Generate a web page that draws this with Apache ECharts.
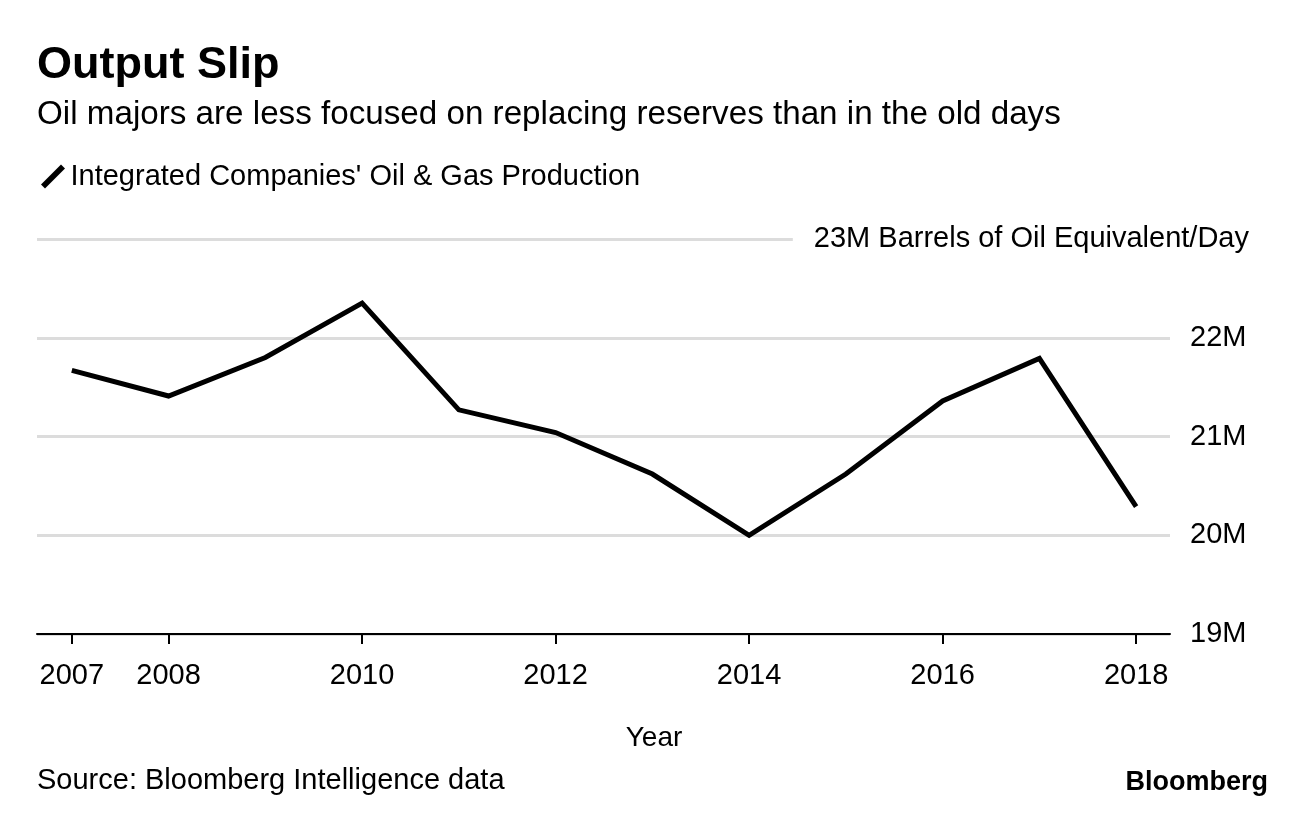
<!DOCTYPE html>
<html>
<head>
<meta charset="utf-8">
<script src="https://cdn.jsdelivr.net/npm/echarts@6/dist/echarts.min.js"></script>
<style>
html,body{margin:0;padding:0;background:#fff;}
#chart{width:1296px;height:814px;}
</style>
</head>
<body>
<div id="chart"></div>
<script>
// ---- data ----
const years = [2007, 2008, 2009, 2010, 2011, 2012, 2013, 2014, 2015, 2016, 2017, 2018];
const production = [21.67, 21.41, 21.80, 22.35, 21.27, 21.04, 20.62, 20.00, 20.62, 21.36, 21.79, 20.29];
const tickYears = [2007, 2008, 2010, 2012, 2014, 2016, 2018];
const seriesName = "Integrated Companies' Oil & Gas Production";
const titleText = 'Output Slip';
const subtitleText = 'Oil majors are less focused on replacing reserves than in the old days';
const unitText = '23M Barrels of Oil Equivalent/Day';
const xAxisName = 'Year';
const sourceText = 'Source: Bloomberg Intelligence data';
const logoText = 'Bloomberg';

const FONT = '"Liberation Sans", Arial, Helvetica, sans-serif';

const chart = echarts.init(document.getElementById('chart'), null, {renderer: 'canvas'});
chart.setOption({
  animation: false,
  backgroundColor: '#fff',
  textStyle: {fontFamily: FONT},
  grid: {left: 37, right: 126, top: 239, bottom: 180, containLabel: false},
  legend: {
    left: 36, top: 157,
    itemWidth: 25, itemHeight: 24,
    icon: 'path://M0,20 L20,0 L24,4 L4,24 Z',
    textStyle: {fontSize: 29, color: '#000', fontFamily: FONT},
    data: [{name: seriesName, itemStyle: {color: '#000'}}],
    selectedMode: false
  },
  xAxis: {
    type: 'value',
    min: 2006.64, max: 2018.35,
    splitLine: {show: false},
    axisLine: {show: true, onZero: false, lineStyle: {color: '#000', width: 2}},
    axisTick: {show: true, customValues: tickYears, length: 10, lineStyle: {color: '#000', width: 2}},
    axisLabel: {customValues: tickYears, formatter: v => String(v), fontSize: 29, color: '#000', margin: 27, fontFamily: FONT}
  },
  yAxis: {
    type: 'value',
    position: 'right',
    min: 19, max: 23, interval: 1,
    axisLine: {show: false},
    axisTick: {show: false},
    splitLine: {show: true, lineStyle: {color: '#dcdcdc', width: 3}},
    axisLabel: {formatter: v => (v === 23 ? '' : v + 'M'), fontSize: 29, color: '#000', margin: 20, fontFamily: FONT}
  },
  series: [{
    name: seriesName,
    type: 'line',
    data: years.map((y, i) => [y, production[i]]),
    symbol: 'none',
    lineStyle: {color: '#000', width: 5, join: 'miter'},
    itemStyle: {color: '#000'},
    z: 5
  }],
  graphic: [
    {type: 'text', x: 37, y: 66, z: 100, style: {text: titleText, font: 'bold 45px ' + FONT, fill: '#000', textAlign: 'left', textVerticalAlign: 'middle'}},
    {type: 'text', x: 37, y: 115, z: 100, style: {text: subtitleText, font: '33.2px ' + FONT, fill: '#000', textAlign: 'left', textVerticalAlign: 'middle'}},
    {type: 'text', x: 1249, y: 239, z: 100, style: {text: unitText, font: '29px ' + FONT, fill: '#000', textAlign: 'right', textVerticalAlign: 'middle', backgroundColor: '#fff', padding: [4, 0, 4, 21]}},
    {type: 'text', x: 654, y: 738, z: 100, style: {text: xAxisName, font: '28px ' + FONT, fill: '#000', textAlign: 'center', textVerticalAlign: 'middle'}},
    {type: 'text', x: 37, y: 781, z: 100, style: {text: sourceText, font: '29px ' + FONT, fill: '#000', textAlign: 'left', textVerticalAlign: 'middle'}},
    {type: 'text', x: 1268, y: 783, z: 100, style: {text: logoText, font: 'bold 27px ' + FONT, fill: '#000', textAlign: 'right', textVerticalAlign: 'middle'}}
  ]
});
</script>
</body>
</html>
